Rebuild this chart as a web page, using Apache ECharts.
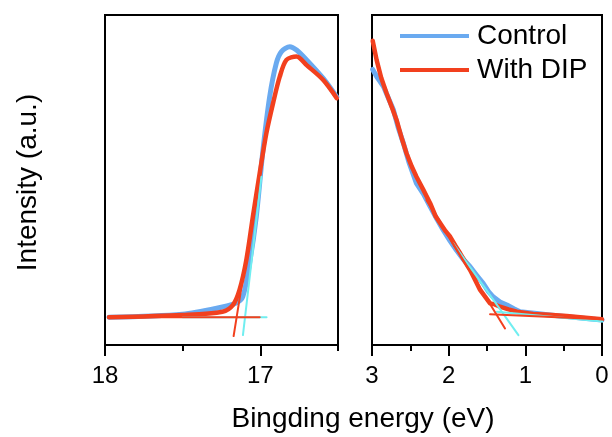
<!DOCTYPE html>
<html>
<head>
<meta charset="utf-8">
<script src="https://cdn.jsdelivr.net/npm/echarts@6/dist/echarts.min.js"></script>
<style>html,body{margin:0;padding:0;background:#fff;}#c{width:612px;height:437px;}</style>
</head>
<body>
<div id="c"></div>
<script>
// Left panel (secondary electron cutoff), x in eV, y in arbitrary units
const leftControl = [[17.974,8.4],[17.502,9.3],[17.244,11.5],[17.156,12.7],[17.113,14.6],[17.069,24.8],[17.026,38.9],[16.983,59.1],[16.940,75.2],[16.897,85.4],[16.864,88.9],[16.810,90.4],[16.767,89.4],[16.702,86.4],[16.595,80.8],[16.508,75.2]];
const leftDIP = [[17.974,8.4],[17.502,9.1],[17.244,10.1],[17.177,12.1],[17.134,16.7],[17.090,25.8],[17.048,38.9],[17.004,52.1],[16.961,64.2],[16.918,73.3],[16.875,81.3],[16.832,86.4],[16.767,87.4],[16.702,84.8],[16.595,80.3],[16.508,74.8]];
const leftFitControlBase = [[17.5,8.4],[16.96,8.4]];
const leftFitControlEdge = [[17.112,3.0],[16.993,51.0]];
const leftFitDIPBase = [[17.974,8.4],[17.004,8.4]];
const leftFitDIPEdge = [[17.172,2.7],[17.004,52.1]];
// Right panel (valence band edge)
const rightControl = [[2.991,83.5],[2.93,81.0],[2.85,78.3],[2.78,74.5],[2.72,71.2],[2.66,66.0],[2.59,61.1],[2.52,55.5],[2.42,49.0],[2.33,45.8],[2.24,41.9],[2.15,38.0],[2.07,34.8],[1.98,31.5],[1.90,28.8],[1.81,26.0],[1.72,23.7],[1.63,21.0],[1.55,18.7],[1.48,16.2],[1.42,14.6],[1.33,13.0],[1.24,12.1],[1.15,11.0],[1.07,10.1],[0.88,9.6],[0.68,9.1],[0.45,8.6],[0.24,8.1],[0,7.6]];
const rightDIP = [[2.991,92.2],[2.94,86.4],[2.88,81.0],[2.81,76.3],[2.74,72.0],[2.68,68.2],[2.61,62.5],[2.55,58.1],[2.48,54.0],[2.42,51.0],[2.33,47.0],[2.24,42.9],[2.17,39.0],[2.11,36.9],[2.04,34.5],[1.98,32.8],[1.91,30.0],[1.85,27.8],[1.78,25.0],[1.72,22.7],[1.65,19.5],[1.59,16.7],[1.52,14.5],[1.46,12.6],[1.40,12.3],[1.33,11.6],[1.22,10.8],[1.11,10.1],[0.90,9.4],[0.70,9.2],[0.46,8.8],[0.25,8.3],[0,7.8]];
const rightFitControlEdge = [[1.94,30.8],[1.09,3.0]];
const rightFitControlBase = [[1.37,10.1],[-0.10,6.9]];
const rightFitDIPEdge = [[2.29,43.9],[1.265,5.0]];
const rightFitDIPBase = [[1.46,9.3],[0,7.8]];
const leftMajorTicks = [18,17];
const leftMinorTicks = [17.5,16.5];
const rightMajorTicks = [3,2,1,0];
const rightMinorTicks = [2.5,1.5,0.5];
const seriesNames = ['Control','With DIP'];

const BLUE = '#6aaaf0', RED = '#f2401e', CYAN = '#70eef0';
const FONT = 'Liberation Sans, Arial, sans-serif';

function mainX(grid, min, max, ticks){
  return {gridIndex:grid, type:'value', min:min, max:max, inverse:true, position:'bottom',
    axisLine:{show:true, onZero:false, lineStyle:{color:'#000', width:2}},
    axisTick:{show:true, customValues:ticks, length:11, lineStyle:{color:'#000', width:2}},
    axisLabel:{show:true, customValues:ticks, margin:19, color:'#000', fontSize:24, fontFamily:FONT},
    splitLine:{show:false}};
}
function minorX(grid, min, max, ticks){
  return {gridIndex:grid, type:'value', min:min, max:max, inverse:true, position:'bottom', offset:0,
    axisLine:{show:false},
    axisTick:{show:true, customValues:ticks, length:6, lineStyle:{color:'#000', width:2}},
    axisLabel:{show:false}, splitLine:{show:false}};
}
function yAx(grid){
  return {gridIndex:grid, type:'value', min:0, max:100,
    axisLine:{show:true, lineStyle:{color:'#000', width:2}},
    axisTick:{show:false}, axisLabel:{show:false}, splitLine:{show:false}};
}
function line(name, data, xi, yi, color, width, extra){
  return Object.assign({type:'line', name:name, data:data, xAxisIndex:xi, yAxisIndex:yi,
    showSymbol:false, symbol:'none', color:color, lineStyle:{color:color, width:width, cap:'round', join:'round'},
    animation:false, silent:true}, extra||{});
}

const chart = echarts.init(document.getElementById('c'), null, {renderer:'canvas'});
chart.setOption({
  animation:false,
  backgroundColor:'#fff',
  grid:[
    {left:105, right:274, top:15, bottom:92, show:true, borderColor:'#000', borderWidth:2, backgroundColor:'transparent'},
    {left:372, right:10, top:15, bottom:92, show:true, borderColor:'#000', borderWidth:2, backgroundColor:'transparent'}
  ],
  xAxis:[
    mainX(0,16.5,18,leftMajorTicks),
    mainX(1,0,3,rightMajorTicks),
    minorX(0,16.5,18,leftMinorTicks),
    minorX(1,0,3,rightMinorTicks)
  ],
  yAxis:[yAx(0), yAx(1)],
  legend:{
    data:[{name:seriesNames[0], icon:'rect'},{name:seriesNames[1], icon:'rect'}],
    orient:'vertical', left:400, top:20, padding:0, itemWidth:69, itemHeight:4, itemGap:2,
    textStyle:{fontSize:28, lineHeight:32, color:'#000', fontFamily:FONT, padding:[0,0,0,3]},
    selectedMode:false
  },
  graphic:[
    {type:'text', x:363, y:419, style:{text:'Bingding energy (eV)', font:'28px '+FONT, fill:'#000', textAlign:'center', textVerticalAlign:'middle'}},
    {type:'text', x:28.5, y:182.5, rotation:Math.PI/2, style:{text:'Intensity (a.u.)', font:'28px '+FONT, fill:'#000', textAlign:'center', textVerticalAlign:'middle'}}
  ],
  series:[
    line(seriesNames[0], leftControl, 0, 0, BLUE, 5, {z:2, smooth:0.3}),
    line(seriesNames[1], leftDIP, 0, 0, RED, 4.5, {z:3, smooth:0.3}),
    line('fitC1', leftFitControlBase, 0, 0, CYAN, 2, {z:4}),
    line('fitC2', leftFitControlEdge, 0, 0, CYAN, 2, {z:4}),
    line('fitD1', leftFitDIPBase, 0, 0, RED, 2, {z:5}),
    line('fitD2', leftFitDIPEdge, 0, 0, RED, 2, {z:5}),
    line(seriesNames[0], rightControl, 1, 1, BLUE, 5, {z:2}),
    line(seriesNames[1], rightDIP, 1, 1, RED, 4.5, {z:3}),
    line('fitC3', rightFitControlEdge, 1, 1, CYAN, 2, {z:4}),
    line('fitC4', rightFitControlBase, 1, 1, CYAN, 2, {z:4, clip:false}),
    line('fitD3', rightFitDIPEdge, 1, 1, RED, 2, {z:5}),
    line('fitD4', rightFitDIPBase, 1, 1, RED, 2, {z:5})
  ]
});
</script>
</body>
</html>
